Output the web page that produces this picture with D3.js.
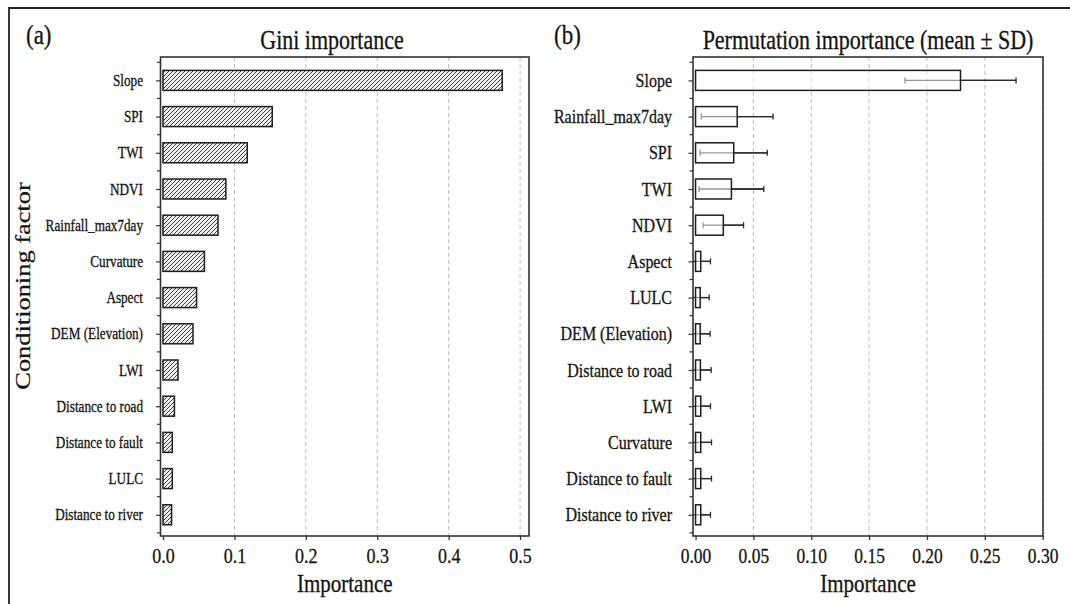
<!DOCTYPE html>
<html>
<head>
<meta charset="utf-8">
<script src="https://d3js.org/d3.v7.min.js"></script>
<style>
  body { margin: 0; background: #fff; }
  svg { display: block; }
  text { font-family: "Liberation Serif", "Times New Roman", serif; fill: #141414; stroke: #141414; stroke-width: 0.25px; }
</style>
</head>
<body>
<div id="chart"></div>
<script>
// Gini importance (panel a), top to bottom
var giniFactors = ["Slope", "SPI", "TWI", "NDVI", "Rainfall_max7day", "Curvature", "Aspect",
  "DEM (Elevation)", "LWI", "Distance to road", "Distance to fault", "LULC", "Distance to river"];
var giniValues = [0.475, 0.153, 0.118, 0.088, 0.077, 0.058, 0.047, 0.042, 0.021, 0.016, 0.013, 0.013, 0.012];

// Permutation importance (panel b), top to bottom
var permFactors = ["Slope", "Rainfall_max7day", "SPI", "TWI", "NDVI", "Aspect", "LULC",
  "DEM (Elevation)", "Distance to road", "LWI", "Curvature", "Distance to fault", "Distance to river"];
var permMeans = [0.229, 0.036, 0.033, 0.031, 0.024, 0.0045, 0.004, 0.004, 0.0042, 0.0045, 0.0045, 0.0045, 0.0045];
var permSD = [0.048, 0.031, 0.029, 0.028, 0.0175, 0.0084, 0.0078, 0.0086, 0.0093, 0.0084, 0.0093, 0.0093, 0.0084];

var giniTicks = [0, 0.1, 0.2, 0.3, 0.4, 0.5];
var permTicks = [0, 0.05, 0.10, 0.15, 0.20, 0.25, 0.30];

var W = 1070, H = 604;
var SY = 1.2; // the figure's text is drawn a bit taller than wide
var plotTop = 57, plotBottom = 536;

var svg = d3.select("#chart").append("svg")
  .attr("width", W).attr("height", H);

var defs = svg.append("defs");
var pat = defs.append("pattern")
  .attr("id", "hatch")
  .attr("patternUnits", "userSpaceOnUse")
  .attr("width", 4).attr("height", 4);
pat.append("rect").attr("width", 4).attr("height", 4).attr("fill", "#f0f0f0");
pat.append("path")
  .attr("d", "M-1,1 l2,-2 M0,4 l4,-4 M3,5 l2,-2")
  .attr("stroke", "#333").attr("stroke-width", 0.95);

// outer frame (top and left edges only are visible)
svg.append("path")
  .attr("d", "M9," + H + " V8 H" + W)
  .attr("fill", "none").attr("stroke", "#222").attr("stroke-width", 1.8);

function txt(g, x, y, s, size, anchor, rot) {
  return g.append("text")
    .attr("transform", "translate(" + x + "," + y + ")" + (rot ? " rotate(-90) scale(" + SY + ",1)" : " scale(1," + SY + ")"))
    .attr("font-size", size)
    .attr("text-anchor", anchor || "middle")
    .text(s);
}

var y = d3.scaleLinear().domain([-0.646, 12.586]).range([plotTop, plotBottom]);
var barH = 20;

function panel(opt) {
  var g = svg.append("g");
  var x = d3.scaleLinear().domain(opt.domain).range([opt.x0, opt.x1]);

  defs.append("clipPath").attr("id", opt.id)
    .append("rect").attr("x", opt.x0).attr("y", plotTop)
    .attr("width", opt.x1 - opt.x0).attr("height", plotBottom - plotTop);

  // dashed vertical grid
  g.append("g").selectAll("line")
    .data(opt.ticks.filter(function(d) { return d > 0; }))
    .enter().append("line")
    .attr("x1", function(d) { return x(d); }).attr("x2", function(d) { return x(d); })
    .attr("y1", plotTop).attr("y2", plotBottom)
    .attr("stroke", "#b4b4b4").attr("stroke-width", 0.9)
    .attr("stroke-dasharray", "4,3");

  var plot = g.append("g").attr("clip-path", "url(#" + opt.id + ")");

  if (opt.sd) {
    // error bars under a slightly translucent white bar
    var eb = plot.append("g").attr("stroke", "#2a2a2a").attr("stroke-width", 1.3);
    opt.values.forEach(function(v, i) {
      var lo = x(v - opt.sd[i]), hi = x(v + opt.sd[i]), cy = y(i);
      eb.append("line").attr("x1", lo).attr("x2", hi).attr("y1", cy).attr("y2", cy);
      eb.append("line").attr("x1", lo).attr("x2", lo).attr("y1", cy - 3).attr("y2", cy + 3);
      eb.append("line").attr("x1", hi).attr("x2", hi).attr("y1", cy - 3).attr("y2", cy + 3);
    });
  }
  plot.append("g").selectAll("rect")
    .data(opt.values)
    .enter().append("rect")
    .attr("x", x(0))
    .attr("y", function(d, i) { return y(i) - barH / 2; })
    .attr("width", function(d) { return x(d) - x(0); })
    .attr("height", barH)
    .attr("fill", opt.sd ? "rgba(255,255,255,0.5)" : "url(#hatch)")
    .attr("stroke", "#1e1e1e").attr("stroke-width", 1.5);
  if (opt.sd) {
    // outer parts of the error bars stay dark
    var eb2 = plot.append("g").attr("stroke", "#2a2a2a").attr("stroke-width", 1.3);
    opt.values.forEach(function(v, i) {
      var cy = y(i);
      eb2.append("line").attr("x1", x(v)).attr("x2", x(v + opt.sd[i])).attr("y1", cy).attr("y2", cy);
    });
  }

  // frame
  g.append("rect")
    .attr("x", opt.x0).attr("y", plotTop)
    .attr("width", opt.x1 - opt.x0).attr("height", plotBottom - plotTop)
    .attr("fill", "none").attr("stroke", "#333").attr("stroke-width", 1.6);

  // x axis
  var xa = g.append("g").attr("transform", "translate(0," + plotBottom + ")")
    .call(d3.axisBottom(x).tickValues(opt.ticks).tickSize(4).tickFormat(d3.format(opt.fmt)));
  xa.select(".domain").remove();
  xa.selectAll(".tick line").attr("stroke", "#333").attr("stroke-width", 1.3);
  xa.selectAll(".tick text")
    .attr("font-family", "Liberation Serif").attr("font-size", opt.tickSize).attr("fill", "#141414")
    .attr("y", 27 / SY).attr("dy", 0)
    .attr("transform", "scale(1," + SY + ")");

  // y axis: ticks at bar centres and minor ticks between bars
  var minor = d3.range(-0.5, 13, 1);
  g.append("g").selectAll("line")
    .data(minor).enter().append("line")
    .attr("x1", opt.x0 - 3.5).attr("x2", opt.x0)
    .attr("y1", function(d) { return y(d); }).attr("y2", function(d) { return y(d); })
    .attr("stroke", "#333").attr("stroke-width", 1.2);
  var ya = g.append("g").attr("transform", "translate(" + opt.x0 + ",0)")
    .call(d3.axisLeft(y).tickValues(d3.range(13)).tickSize(4.5).tickFormat(function(i) { return opt.factors[i]; }));
  ya.select(".domain").remove();
  ya.selectAll(".tick line").attr("stroke", "#333").attr("stroke-width", 1.2);
  ya.selectAll(".tick text")
    .attr("font-family", "Liberation Serif").attr("font-size", opt.catSize).attr("fill", "#141414")
    .attr("x", -opt.labelGap).attr("dy", "0.32em")
    .attr("transform", "scale(1," + SY + ")")
    .attr("y", 0);

  // titles
  txt(svg, opt.tag[0], 44, opt.tag[1], 23, "start");
  txt(svg, opt.titleX, 49, opt.title, 22, "middle");
  txt(svg, (opt.x0 + opt.x1) / 2, 592, "Importance", 21, "middle");
}

panel({
  id: "clipA", x0: 160.5, x1: 529, domain: [-0.0035, 0.5125],
  ticks: giniTicks, fmt: ".1f", tickSize: 18,
  factors: giniFactors, values: giniValues,
  catSize: 13.2, labelGap: 17.5,
  tag: [26, "(a)"], title: "Gini importance", titleX: 332
});

panel({
  id: "clipB", x0: 693, x1: 1043, domain: [-0.0022, 0.3003],
  ticks: permTicks, fmt: ".2f", tickSize: 17.5,
  factors: permFactors, values: permMeans, sd: permSD,
  catSize: 16, labelGap: 21,
  tag: [554, "(b)"], title: "Permutation importance (mean \u00b1 SD)", titleX: 868
});

txt(svg, 30, 286, "Conditioning factor", 22, "middle", true);
</script>
</body>
</html>
